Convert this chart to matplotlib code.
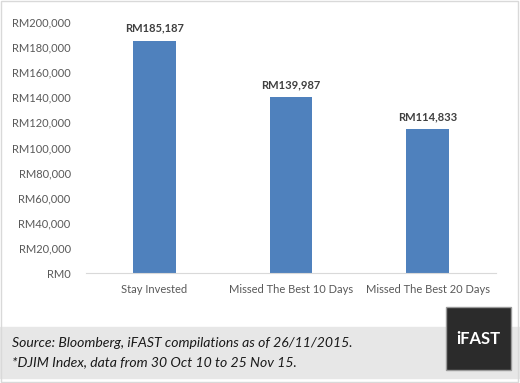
import matplotlib.pyplot as plt
from matplotlib.patches import Rectangle
from matplotlib.ticker import FuncFormatter

# Data
categories = ['Stay Invested', 'Missed The Best 10 Days', 'Missed The Best 20 Days']
values = [185187, 139987, 114833]
y_ticks = [0, 20000, 40000, 60000, 80000, 100000, 120000, 140000, 160000, 180000, 200000]
source_lines = ['Source: Bloomberg, iFAST compilations as of 26/11/2015.',
                '*DJIM Index, data from 30 Oct 10 to 25 Nov 15.']

plt.rcParams['font.family'] = ['Lato', 'DejaVu Sans']

fig = plt.figure(figsize=(5.2, 3.83), dpi=100)
W, H = 520, 383

# Grey footer band
fig.patches.append(Rectangle((0, 1 - 378 / H), 1, (378 - 327) / H,
                             transform=fig.transFigure, color='#e7e7e7', zorder=0))
# Thin outer border
fig.patches.append(Rectangle((0.002, 0.003), 0.995, 0.994, transform=fig.transFigure,
                             fill=False, edgecolor='#d9d9d9', lw=1, zorder=1))

ax = fig.add_axes([86 / W, 1 - 273 / H, (496 - 86) / W, (273 - 22) / H])
x = range(len(categories))
bars = ax.bar(x, values, width=0.31, color='#4f81bd')

ax.set_xlim(-0.5, 2.5)
ax.set_ylim(0, 200000)
ax.set_yticks(y_ticks)
ax.yaxis.set_major_formatter(FuncFormatter(lambda v, p: 'RM{:,.0f}'.format(v)))
ax.set_xticks(list(x))
ax.set_xticklabels(categories)
ax.tick_params(axis='both', length=0, colors='#595959', labelsize=8)
ax.tick_params(axis='y', pad=11)
ax.tick_params(axis='x', pad=8)

for s in ['top', 'right', 'left']:
    ax.spines[s].set_visible(False)
ax.spines['bottom'].set_color('#d9d9d9')

for rect, v in zip(bars, values):
    ax.annotate('RM{:,.0f}'.format(v), (rect.get_x() + rect.get_width() / 2, v),
                xytext=(0, 5), textcoords='offset points', ha='center', va='bottom',
                fontsize=8, fontweight='bold', color='#404040')

# Source notes
fig.text(12 / W, 1 - 343 / H, source_lines[0], fontsize=10.1, style='italic',
         color='#1a1a1a', va='center')
fig.text(12 / W, 1 - 362 / H, source_lines[1], fontsize=10.1, style='italic',
         color='#1a1a1a', va='center')

# Logo box
fig.patches.append(Rectangle((446 / W, 1 - 370 / H), 65 / W, 63 / H,
                             transform=fig.transFigure, facecolor='#2b2b2b',
                             edgecolor='#9a9a9a', lw=1, zorder=2))
fig.text(478 / W, 1 - 339 / H, 'iFAST', fontsize=12, fontweight='bold',
         color='white', ha='center', va='center', zorder=3)

fig.savefig('out.png', dpi=100)
